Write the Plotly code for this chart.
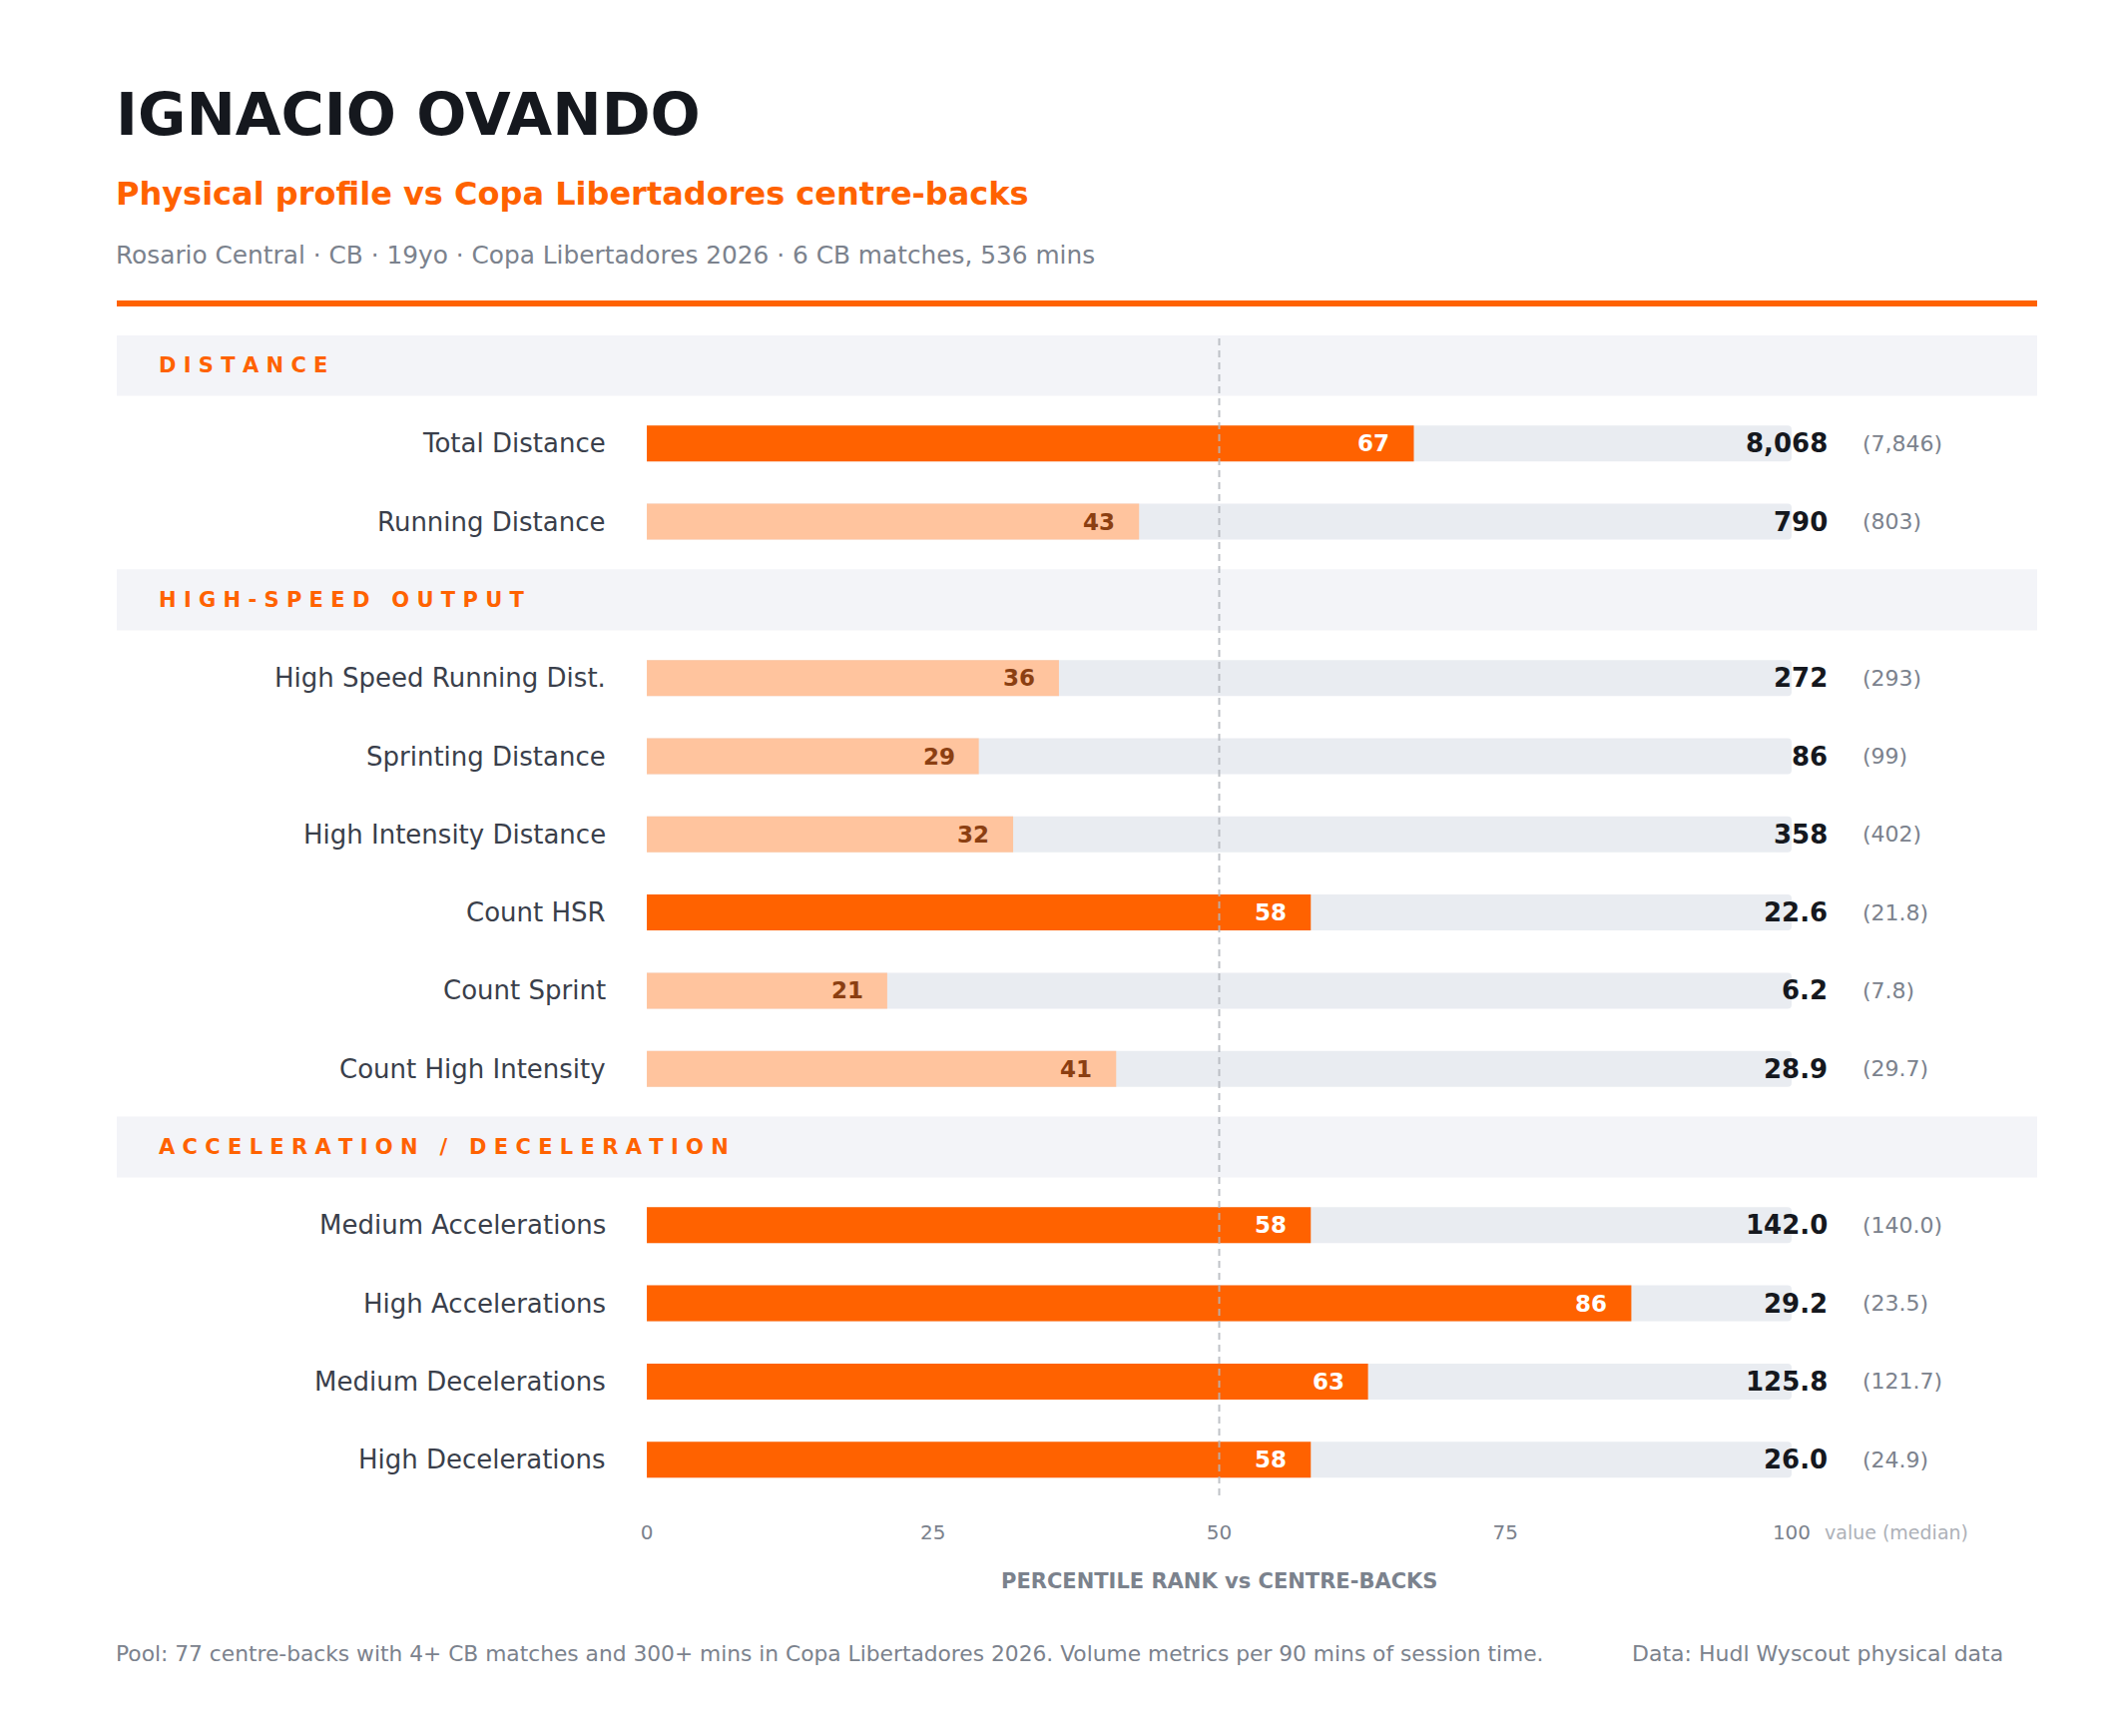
import plotly.graph_objects as go

# values
sections = ["DISTANCE", "HIGH-SPEED OUTPUT", "ACCELERATION / DECELERATION"]
section_sizes = [2, 6, 4]
metrics = [
    "Total Distance", "Running Distance",
    "High Speed Running Dist.", "Sprinting Distance", "High Intensity Distance",
    "Count HSR", "Count Sprint", "Count High Intensity",
    "Medium Accelerations", "High Accelerations", "Medium Decelerations", "High Decelerations",
]
percentiles = [67, 43, 36, 29, 32, 58, 21, 41, 58, 86, 63, 58]
values = ["8,068", "790", "272", "86", "358", "22.6", "6.2", "28.9", "142.0", "29.2", "125.8", "26.0"]
medians = ["(7,846)", "(803)", "(293)", "(99)", "(402)", "(21.8)", "(7.8)", "(29.7)",
           "(140.0)", "(23.5)", "(121.7)", "(24.9)"]
tick_vals = [0, 25, 50, 75, 100]

ORANGE = "#FF6200"
LIGHT = "#FFC49E"
BROWN = "#8B3F12"
TRACK = "#E9ECF1"
BAND = "#F3F4F8"
DARK = "#15181E"
GREY = "#7B828D"
FONT = "DejaVu Sans"

X0, X1 = -46.3, 121.45

# lay rows out in slots: one slot per section header, one per metric
row_y, band_y, band_names = [], [], []
slot = 0
for name, n in zip(sections, section_sizes):
    band_y.append(slot)
    band_names.append(name)
    slot += 1
    for _ in range(n):
        row_y.append(slot)
        slot += 1


def spaced(s):
    return "\u00a0".join("\u00a0" if c == " " else c for c in s)


fig = go.Figure()

fig.add_trace(go.Bar(
    x=[100] * len(metrics), y=row_y, orientation="h", width=0.46,
    marker=dict(color=TRACK, line_width=0), hoverinfo="skip",
))
fig.add_trace(go.Bar(
    x=percentiles, y=row_y, orientation="h", width=0.46,
    marker=dict(color=[ORANGE if p >= 50 else LIGHT for p in percentiles], line_width=0),
    hovertext=metrics, hoverinfo="text+x",
))

shapes = []
for y in band_y:
    shapes.append(dict(type="rect", xref="x", yref="y", x0=X0, x1=X1,
                       y0=y - 0.39, y1=y + 0.39, fillcolor=BAND, line_width=0, layer="below"))
shapes.append(dict(type="line", xref="x", yref="paper", x0=50, x1=50, y0=0, y1=1,
                   line=dict(color="#B4B8BE", width=2, dash="7px,5px"), opacity=0.85, layer="above"))
shapes.append(dict(type="line", xref="paper", yref="paper", x0=0, x1=1,
                   y0=1 + 32 / 1162, y1=1 + 32 / 1162,
                   line=dict(color=ORANGE, width=6)))

ann = []
for y, name in zip(band_y, band_names):
    ann.append(dict(x=-42.6, y=y, xref="x", yref="y", text=spaced(name), showarrow=False,
                    xanchor="left", xshift=-2,
                    font=dict(family=FONT, size=21, color=ORANGE, weight="bold")))
for y, m, p, v, md in zip(row_y, metrics, percentiles, values, medians):
    ann.append(dict(x=-3.66, y=y, text=m, showarrow=False, xanchor="right", xshift=3,
                    font=dict(family=FONT, size=26, color="#3A3F4B")))
    ann.append(dict(x=p, y=y, text=str(p), showarrow=False, xanchor="right", xshift=-22,
                    font=dict(family=FONT, size=23, weight="bold",
                              color="#FFFFFF" if p >= 50 else BROWN)))
    ann.append(dict(x=103.3, y=y, text=v, showarrow=False, xanchor="right",
                    font=dict(family=FONT, size=26, weight="bold", color=DARK)))
    ann.append(dict(x=106.2, y=y, text=md, showarrow=False, xanchor="left", xshift=-2,
                    font=dict(family=FONT, size=22, color=GREY)))

ann.append(dict(x=103.0, y=0, xref="x", yref="paper", yshift=-37, yanchor="middle",
                text="value (median)", showarrow=False, xanchor="left", xshift=-3,
                font=dict(family=FONT, size=19, color="#ADB1B8")))
ann.append(dict(x=50, y=0, xref="x", yref="paper", yshift=-86, yanchor="middle",
                text="PERCENTILE RANK vs CENTRE-BACKS", showarrow=False,
                font=dict(family=FONT, size=21, weight="bold", color=GREY)))


# header and footer text, positioned in paper coords
def py(px):
    return (1498 - px) / 1162


ann.append(dict(x=0, y=py(115), xref="paper", yref="paper", text="IGNACIO OVANDO", showarrow=False,
                xanchor="left", yanchor="middle", xshift=-3,
                font=dict(family=FONT, size=59, weight="bold", color=DARK)))
ann.append(dict(x=0, y=py(194), xref="paper", yref="paper",
                text="Physical profile vs Copa Libertadores centre-backs", showarrow=False,
                xanchor="left", yanchor="middle", xshift=-3,
                font=dict(family=FONT, size=32, weight="bold", color=ORANGE)))
ann.append(dict(x=0, y=py(256), xref="paper", yref="paper",
                text="Rosario Central · CB · 19yo · Copa Libertadores 2026 · 6 CB matches, 536 mins",
                showarrow=False, xanchor="left", yanchor="middle", xshift=-3,
                font=dict(family=FONT, size=24.8, color=GREY)))
ann.append(dict(x=0, y=py(1656), xref="paper", yref="paper",
                text="Pool: 77 centre-backs with 4+ CB matches and 300+ mins in Copa Libertadores 2026. "
                     "Volume metrics per 90 mins of session time.",
                showarrow=False, xanchor="left", yanchor="middle", xshift=-3,
                font=dict(family=FONT, size=21.75, color=GREY)))
ann.append(dict(x=(2009 - 117) / 1924, y=py(1656), xref="paper", yref="paper",
                text="Data: Hudl Wyscout physical data",
                showarrow=False, xanchor="right", yanchor="middle",
                font=dict(family=FONT, size=22, color=GREY)))

fig.update_layout(
    width=2125, height=1739,
    margin=dict(l=117, r=84, t=336, b=241, pad=0),
    paper_bgcolor="white", plot_bgcolor="white",
    barmode="overlay", barcornerradius=4, showlegend=False,
    shapes=shapes, annotations=ann,
    font=dict(family=FONT, color=GREY),
    xaxis=dict(range=[X0, X1], tickvals=tick_vals, showgrid=False, zeroline=False,
               showline=False, ticks="", ticklabelstandoff=23,
               tickfont=dict(family=FONT, size=20, color=GREY), fixedrange=True),
    yaxis=dict(range=[14.457, -0.383], showticklabels=False, showgrid=False,
               zeroline=False, showline=False, fixedrange=True),
)

fig.write_html("out.html", config={"displayModeBar": False},
               post_script="document.body.style.margin = '0';")
